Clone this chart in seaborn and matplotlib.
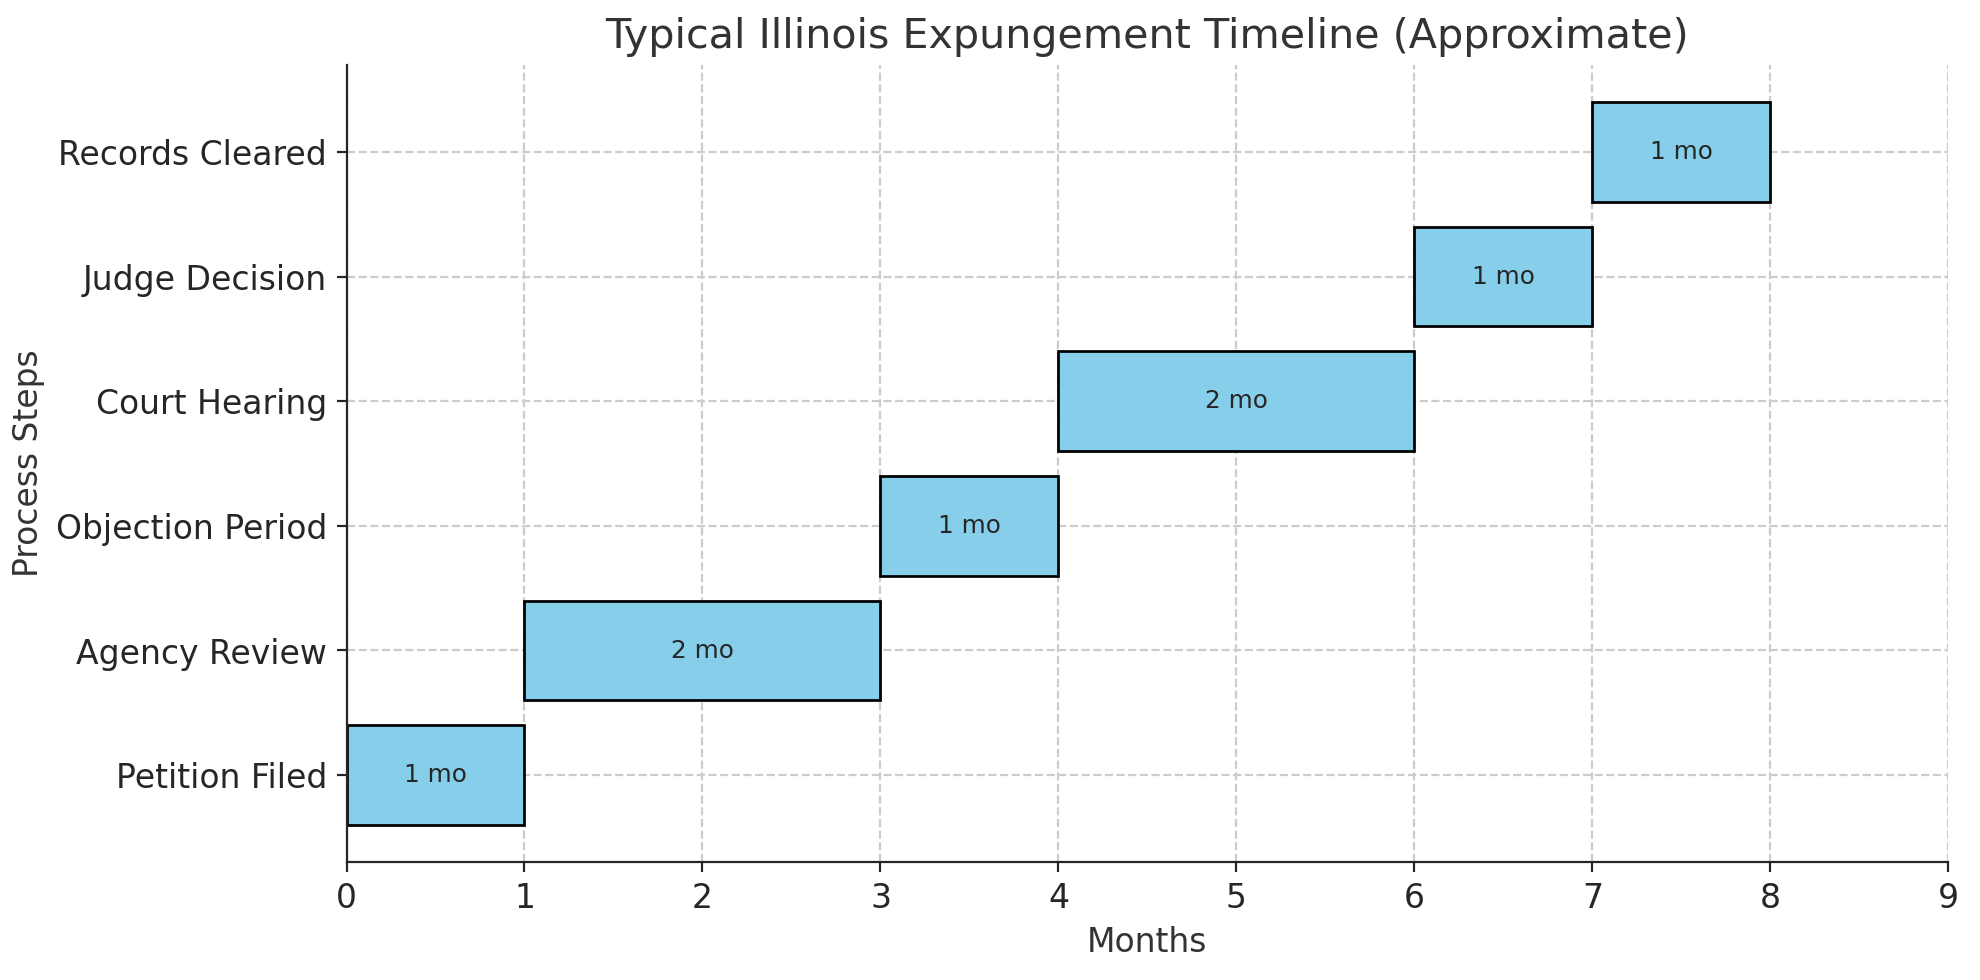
import matplotlib.pyplot as plt
import seaborn as sns

steps = ["Petition Filed", "Agency Review", "Objection Period",
         "Court Hearing", "Judge Decision", "Records Cleared"]
starts = [0, 1, 3, 4, 6, 7]
durations = [1, 2, 1, 2, 1, 1]

sns.set_style("ticks", {"axes.grid": True, "grid.linestyle": "--", "grid.color": "#cccccc"})

fig, ax = plt.subplots(figsize=(10, 4.95), dpi=198)
ax.barh(steps, durations, left=starts, height=0.8, color="skyblue", edgecolor="black")
for i in range(len(steps)):
    ax.text(starts[i] + durations[i] / 2, i, f"{durations[i]} mo",
            ha="center", va="center", fontsize=9)

ax.set_xlim(0, 9)
ax.set_ylim(-0.7, 5.7)
ax.set_xticks(range(10))
ax.tick_params(labelsize=12)
ax.set_xlabel("Months", fontsize=12, color="#333333")
ax.set_ylabel("Process Steps", fontsize=12, color="#333333")
ax.set_title("Typical Illinois Expungement Timeline (Approximate)", fontsize=15, color="#333333")
ax.set_axisbelow(True)
sns.despine(ax=ax)
fig.subplots_adjust(left=0.175, right=0.984, top=0.934, bottom=0.12)
fig.savefig("out.png")
